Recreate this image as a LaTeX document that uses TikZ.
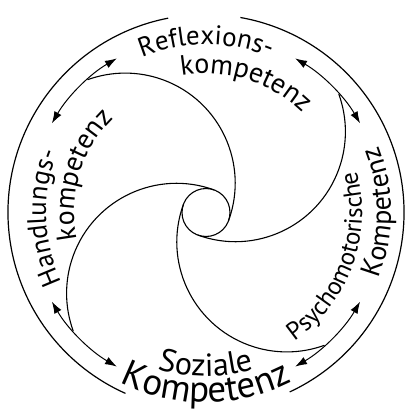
\documentclass[tikz,border=0pt]{standalone}
\usepackage{fontspec}
\setmainfont{PT Sans}
\usetikzlibrary{arrows.meta,decorations.text}

\begin{document}
\begin{tikzpicture}[x=1pt, y=1pt,
    ring/.style={line width=1.2pt},
    arm/.style={line width=1.1pt},
    swap/.style={line width=1pt,
                 {Latex[length=12pt,width=8pt]}-{Latex[length=12pt,width=8pt]}}]

\useasboundingbox (-206,-203.5) rectangle (199,212.5);

% --- outer ring, left open where the top and bottom labels sit -------------
\draw[ring] (101:198) arc[start angle=101, end angle=246, radius=198];
\draw[ring] (295:198) arc[start angle=295, end angle=440, radius=198];

% --- hub, the four pinwheel arms and the exchange arrows --------------------
\draw[arm] (0,0) circle (24);
\foreach \k in {0,1,2,3}
{
  \pgfmathsetmacro{\ta}{-90*\k-20}
  \pgfmathsetmacro{\tb}{-90*\k+110}
  \pgfmathsetmacro{\aa}{-90*\k+150}
  \pgfmathsetmacro{\ab}{-90*\k+120}
  \draw[arm] (\ta:24) arc[start angle=\ta, end angle=\tb, radius=110];
  \draw[swap] (\aa:178) arc[start angle=\aa, end angle=\ab, radius=178];
}

% --- labels along the ring --  size/radius/from/to/label ---------------------
\foreach \sz/\r/\from/\to/\txt in {%
    27/168/150/30/{Reflexions-},
    28/139/133/13/{kompetenz},
    27/160/242/122/{Handlungs-},
    28/132/223/103/{kompetenz},
    25/156/-80/40/{Psychomotorische},
    28/185/-60/60/{Kompetenz},
    32/164/230/310/{Soziale},
    37/190/220/320/{Kompetenz}}
{
  \path[decorate, decoration={text along path, text align=center,
        text/.expanded={|\noexpand\fontsize{\sz}{\sz}\noexpand\selectfont|\txt}}]
    (\from:\r) arc[start angle=\from, end angle=\to, radius=\r];
}
\end{tikzpicture}
\end{document}
